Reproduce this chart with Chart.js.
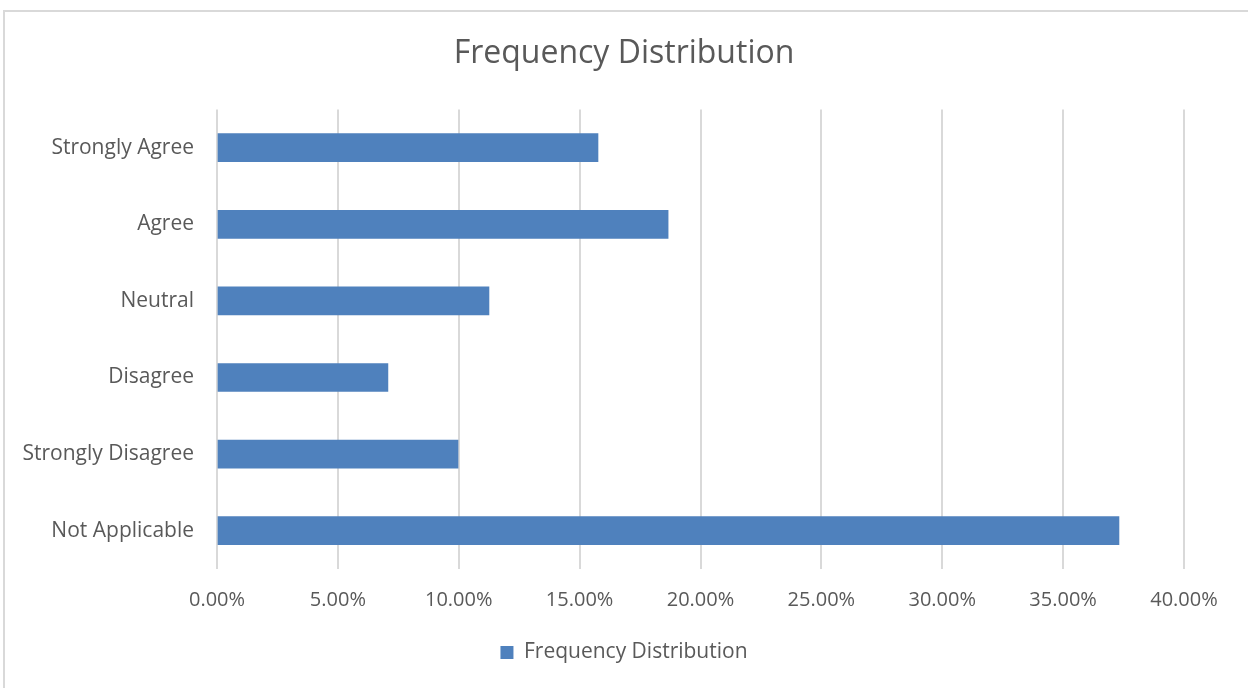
<!DOCTYPE html>
<html>
<head>
<meta charset="utf-8">
<script src="https://cdn.jsdelivr.net/npm/chart.js@4/dist/chart.umd.min.js"></script>
<style>
  html, body { margin: 0; padding: 0; background: #ffffff; }
  #wrap { position: relative; width: 1248px; height: 688px; overflow: hidden; }
  #frame {
    position: absolute; left: 3px; top: 10px; width: 1260px; height: 700px;
    border-left: 2px solid #d9d9d9; border-top: 2px solid #d9d9d9;
    box-sizing: border-box;
  }
  #chart { position: absolute; left: 0; top: 0; }
</style>
</head>
<body>
<div id="wrap">
  <div id="frame"></div>
  <canvas id="chart" width="1248" height="688"></canvas>
</div>
<script>
// Survey responses, top to bottom
const categories = ["Strongly Agree", "Agree", "Neutral", "Disagree", "Strongly Disagree", "Not Applicable"];
// Share of respondents (%)
const frequency = [15.76, 18.66, 11.25, 7.07, 9.97, 37.31];
// Value axis ticks (%)
const axisTicks = [0, 5, 10, 15, 20, 25, 30, 35, 40];

const seriesName = "Frequency Distribution";
const textColor = "#595959";
const barColor = "#4f81bd";
const font = "'Open Sans', 'Noto Sans', sans-serif";

new Chart(document.getElementById("chart"), {
  type: "bar",
  data: {
    labels: categories,
    datasets: [{
      label: seriesName,
      data: frequency,
      backgroundColor: barColor,
      borderWidth: 0,
      barThickness: 28
    }]
  },
  options: {
    indexAxis: "y",
    responsive: false,
    animation: false,
    layout: { padding: { left: 0, right: 0, top: 12, bottom: 15 } },
    scales: {
      x: {
        min: axisTicks[0],
        max: axisTicks[axisTicks.length - 1],
        afterBuildTicks: (scale) => { scale.ticks = axisTicks.map(v => ({ value: v })); },
        afterFit: (scale) => {
          scale.height = 63;
          // keep empty room to the right of the last gridline
          scale.paddingRight = 64;
        },
        grid: { color: "#d9d9d9", lineWidth: 2, drawTicks: false },
        border: { display: false },
        ticks: {
          color: textColor,
          font: { family: font, size: 20 },
          padding: 19,
          maxRotation: 0,
          callback: (v) => Number(v).toFixed(2) + "%"
        }
      },
      y: {
        afterFit: (scale) => { scale.width = 217; },
        grid: { display: false, drawTicks: false },
        border: { display: false },
        ticks: {
          color: textColor,
          font: { family: font, size: 21 },
          padding: 23
        }
      }
    },
    plugins: {
      title: {
        display: true,
        text: seriesName,
        color: textColor,
        font: { family: font, size: 32, weight: "normal" },
        padding: { top: 23, bottom: 36 }
      },
      legend: {
        display: true,
        position: "bottom",
        labels: {
          color: textColor,
          font: { family: font, size: 21 },
          boxWidth: 13,
          boxHeight: 13,
          padding: 10
        }
      },
      tooltip: { enabled: false }
    }
  }
});
</script>
</body>
</html>
